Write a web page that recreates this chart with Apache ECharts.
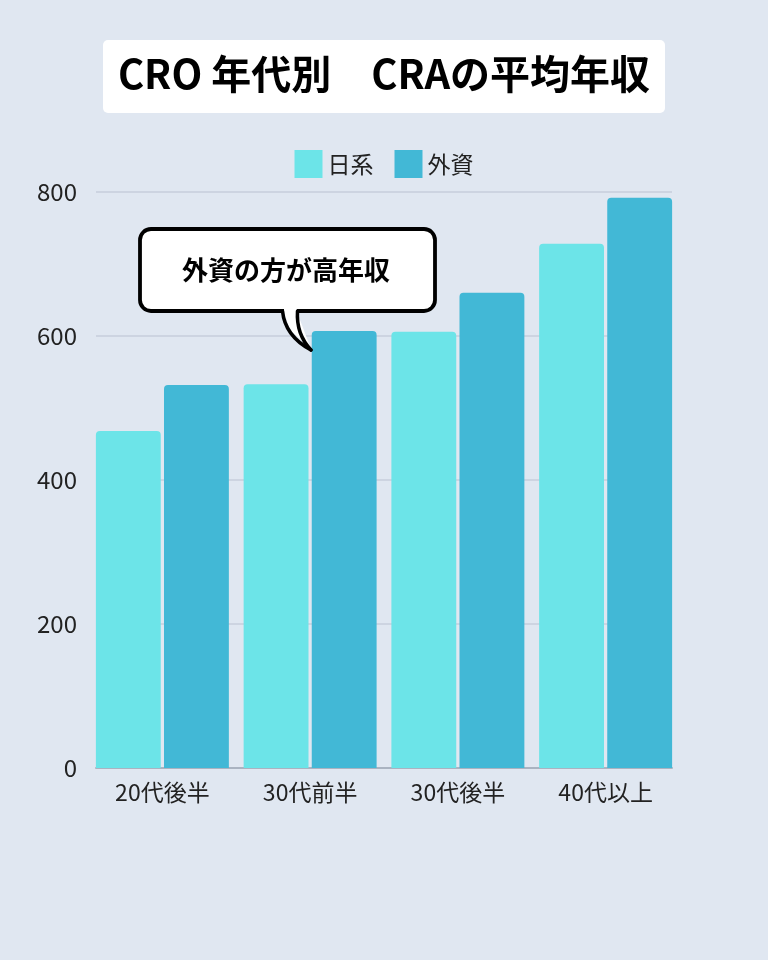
<!DOCTYPE html>
<html>
<head>
<meta charset="utf-8">
<script src="https://cdn.jsdelivr.net/npm/echarts@6/dist/echarts.min.js"></script>
<style>
html,body{margin:0;padding:0;background:#e0e7f1;}
#c{width:768px;height:960px;}
</style>
</head>
<body>
<div id="c"></div>
<script>
const titleText = 'CRO 年代別　CRAの平均年収';
const categories = ['20代後半', '30代前半', '30代後半', '40代以上'];
const seriesNames = ['日系', '外資'];
const japanValues = [468, 533, 606, 728];
const foreignValues = [532, 607, 660, 792];
const yTicks = [0, 200, 400, 600, 800];
const calloutText = '外資の方が高年収';

const FONT = '"Noto Sans CJK JP", "Noto Sans", sans-serif';
const chart = echarts.init(document.getElementById('c'), null, {renderer: 'canvas'});

const option = {
  backgroundColor: '#e0e7f1',
  animation: false,
  title: {
    text: titleText,
    left: 'center',
    top: 49,
    z: 10,
    textStyle: {fontFamily: FONT, fontWeight: 'bold', fontSize: 40, color: '#000'}
  },
  legend: {
    data: seriesNames,
    top: 145,
    left: 'center',
    icon: 'rect',
    itemWidth: 28,
    itemHeight: 28,
    itemGap: 21,
    textStyle: {fontFamily: FONT, fontSize: 23, color: '#222', lineHeight: 28, height: 28}
  },
  grid: [
    {left: 96, right: 96, top: 192, bottom: 192},
    {left: 88.5, right: 88.5, top: 192, bottom: 192}
  ],
  xAxis: [
    {
      gridIndex: 0, type: 'value', min: 0, max: 1,
      axisLine: {show: true, onZero: false, lineStyle: {color: '#aab3c1', width: 2}},
      axisTick: {show: false}, axisLabel: {show: false}, splitLine: {show: false}
    },
    {
      gridIndex: 1, type: 'category', data: categories,
      axisLine: {show: false}, axisTick: {show: false},
      axisLabel: {fontFamily: FONT, fontSize: 23, color: '#222', margin: 13}
    }
  ],
  yAxis: [
    {
      gridIndex: 0, type: 'value', min: yTicks[0], max: yTicks[yTicks.length - 1], interval: 200,
      axisLine: {show: false}, axisTick: {show: false},
      axisLabel: {fontFamily: FONT, fontSize: 24, color: '#222', margin: 19},
      splitLine: {show: true, lineStyle: {color: '#c7cedb', width: 1.5}}
    },
    {
      gridIndex: 1, type: 'value', min: yTicks[0], max: yTicks[yTicks.length - 1],
      show: false, splitLine: {show: false}
    }
  ],
  series: [
    {
      name: seriesNames[0], type: 'bar', xAxisIndex: 1, yAxisIndex: 1,
      data: japanValues, barGap: '5%', barCategoryGap: '10%',
      itemStyle: {color: '#6ce4e8', borderRadius: [4, 4, 0, 0]}
    },
    {
      name: seriesNames[1], type: 'bar', xAxisIndex: 1, yAxisIndex: 1,
      data: foreignValues, barGap: '5%', barCategoryGap: '10%',
      itemStyle: {color: '#42b8d6', borderRadius: [4, 4, 0, 0]}
    }
  ],
  graphic: [
    {
      type: 'rect', z: 1,
      shape: {x: 103, y: 40, width: 562, height: 73, r: 5},
      style: {fill: '#ffffff'}
    },
    {
      type: 'rect', z: 50,
      shape: {x: 140, y: 229, width: 295, height: 82, r: 11},
      style: {fill: '#ffffff', stroke: '#000000', lineWidth: 3.8}
    },
    {
      type: 'polygon', z: 51,
      shape: {points: [[284, 306], [297, 306], [297, 314], [284, 314]]},
      style: {fill: '#ffffff'}
    },
    {
      type: 'polygon', z: 51,
      shape: {points: [[284, 312], [297, 312], [311, 349], [290, 330]]},
      style: {fill: '#ffffff'}
    },
    {
      type: 'bezierCurve', z: 52,
      shape: {x1: 282.5, y1: 311, x2: 311, y2: 350, cpx1: 285, cpy1: 336},
      style: {fill: null, stroke: '#000000', lineWidth: 3.5, lineCap: 'round'}
    },
    {
      type: 'bezierCurve', z: 52,
      shape: {x1: 297.5, y1: 311, x2: 311, y2: 350, cpx1: 296, cpy1: 334},
      style: {fill: null, stroke: '#000000', lineWidth: 3.5, lineCap: 'round'}
    },
    {
      type: 'text', z: 53,
      x: 286, y: 270,
      style: {text: calloutText, fontFamily: FONT, fontWeight: 'bold', fontSize: 26, fill: '#000', align: 'center', verticalAlign: 'middle'}
    }
  ]
};
chart.setOption(option);
</script>
</body>
</html>
